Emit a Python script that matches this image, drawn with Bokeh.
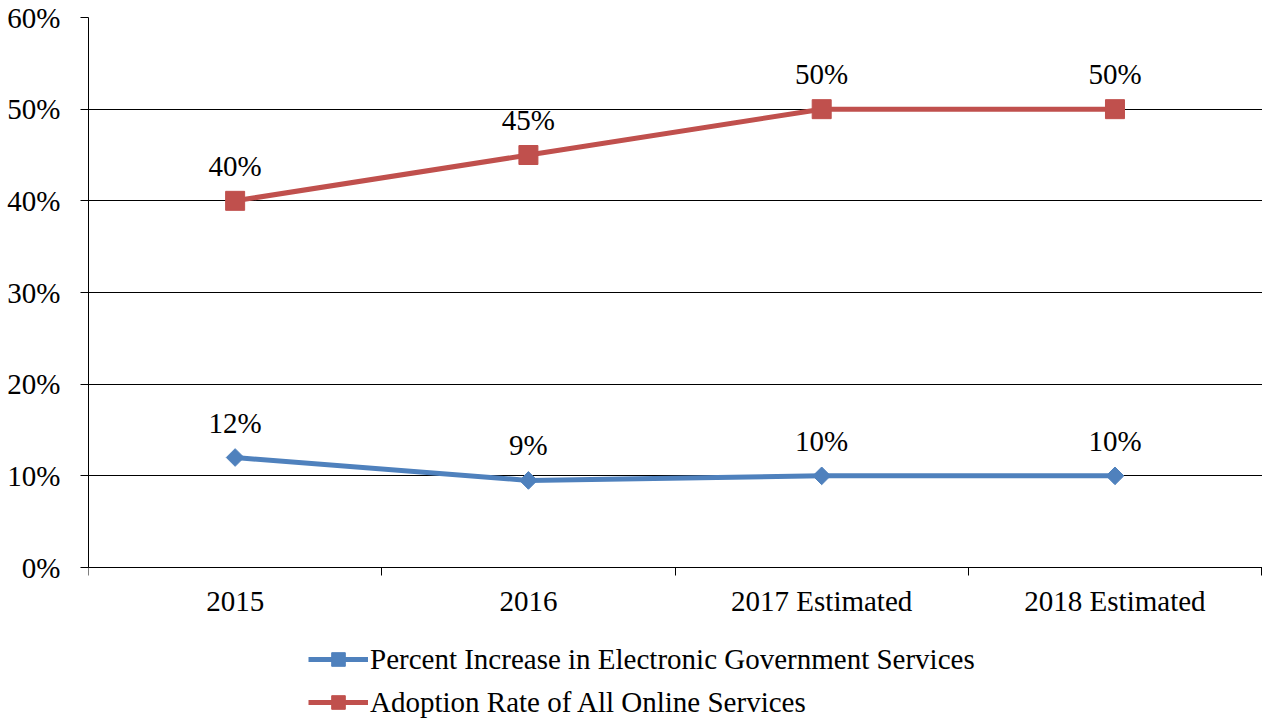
import math
from bokeh.plotting import figure
from bokeh.models import ColumnDataSource, FixedTicker, Legend, LegendItem, Range1d
from bokeh.core.properties import value
from bokeh.embed import file_html
from bokeh.resources import INLINE

categories = ["2015", "2016", "2017 Estimated", "2018 Estimated"]
egov_increase = [12, 9.5, 10, 10]
egov_labels = ["12%", "9%", "10%", "10%"]
adoption_rate = [40, 45, 50, 50]
adoption_labels = ["40%", "45%", "50%", "50%"]
y_ticks = [0, 10, 20, 30, 40, 50, 60]
series_names = ["Percent Increase in Electronic Government Services",
                "Adoption Rate of All Online Services"]

FONT = "Liberation Serif"
FS = "29px"
BLUE = "#4F81BD"
RED = "#C0504D"

xs = list(range(len(categories)))
src_blue = ColumnDataSource(dict(x=xs, y=egov_increase, lab=egov_labels))
src_red = ColumnDataSource(dict(x=xs, y=adoption_rate, lab=adoption_labels))

# frame spans the full height below the top; the category axis sits at y = 0
p = figure(width=1262, height=719, output_backend="svg", toolbar_location=None,
           x_range=Range1d(-0.5, 3.503), y_range=Range1d(-16.58, 60),
           min_border_left=88, min_border_right=0, min_border_top=17, min_border_bottom=0)
p.outline_line_color = None
p.background_fill_color = "white"

# grid
p.xgrid.visible = False
p.ygrid.ticker = FixedTicker(ticks=y_ticks)
p.ygrid.grid_line_color = "black"
p.ygrid.grid_line_width = 1

# y axis
p.yaxis.ticker = FixedTicker(ticks=y_ticks)
p.yaxis.bounds = (0, 60)
p.yaxis.major_label_overrides = {t: f"{t}%" for t in y_ticks}
p.yaxis.axis_line_color = "black"
p.yaxis.major_tick_out = 8
p.yaxis.major_tick_in = 0
p.yaxis.minor_tick_line_color = None
p.yaxis.major_label_text_font = FONT
p.yaxis.major_label_text_font_size = FS
p.yaxis.major_label_text_color = "black"
p.yaxis.major_label_standoff = 20

# x axis
p.xaxis.fixed_location = 0
p.xaxis.ticker = FixedTicker(ticks=xs, minor_ticks=[-0.5, 0.5, 1.5, 2.5, 3.5])
p.xaxis.major_label_overrides = {i: c for i, c in zip(xs, categories)}
p.xaxis.axis_line_color = "black"
p.xaxis.major_tick_line_color = None
p.xaxis.major_tick_out = 0
p.xaxis.major_tick_in = 0
p.xaxis.minor_tick_line_color = "black"
p.xaxis.minor_tick_out = 8
p.xaxis.minor_tick_in = 0
p.xaxis.major_label_text_font = FONT
p.xaxis.major_label_text_font_size = FS
p.xaxis.major_label_text_color = "black"
p.xaxis.major_label_standoff = 9

# series
l_red = p.line("x", "y", source=src_red, line_color=RED, line_width=5)
m_red = p.scatter("x", "y", source=src_red, marker="square", size=19,
                  fill_color=RED, line_color=RED)
l_blue = p.line("x", "y", source=src_blue, line_color=BLUE, line_width=5)
m_blue = p.scatter("x", "y", source=src_blue, marker="square", size=12.5, angle=math.pi / 4,
                   fill_color=BLUE, line_color=BLUE)

for src in (src_blue, src_red):
    p.text("x", "y", text="lab", source=src, text_align="center", text_baseline="alphabetic",
           y_offset=-35, text_font=value(FONT), text_font_size=FS, text_color="black")

legend = Legend(items=[LegendItem(label=series_names[0], renderers=[l_blue, m_blue]),
                       LegendItem(label=series_names[1], renderers=[l_red, m_red])],
                location=(220, 0), orientation="vertical",
                glyph_width=60, glyph_height=34, label_height=20, spacing=9,
                label_standoff=2, padding=0, margin=0,
                border_line_color=None, background_fill_alpha=0,
                label_text_font=FONT, label_text_font_size=FS, label_text_color="black")
p.add_layout(legend, "center")

open("out.html", "w").write(file_html(p, INLINE))
